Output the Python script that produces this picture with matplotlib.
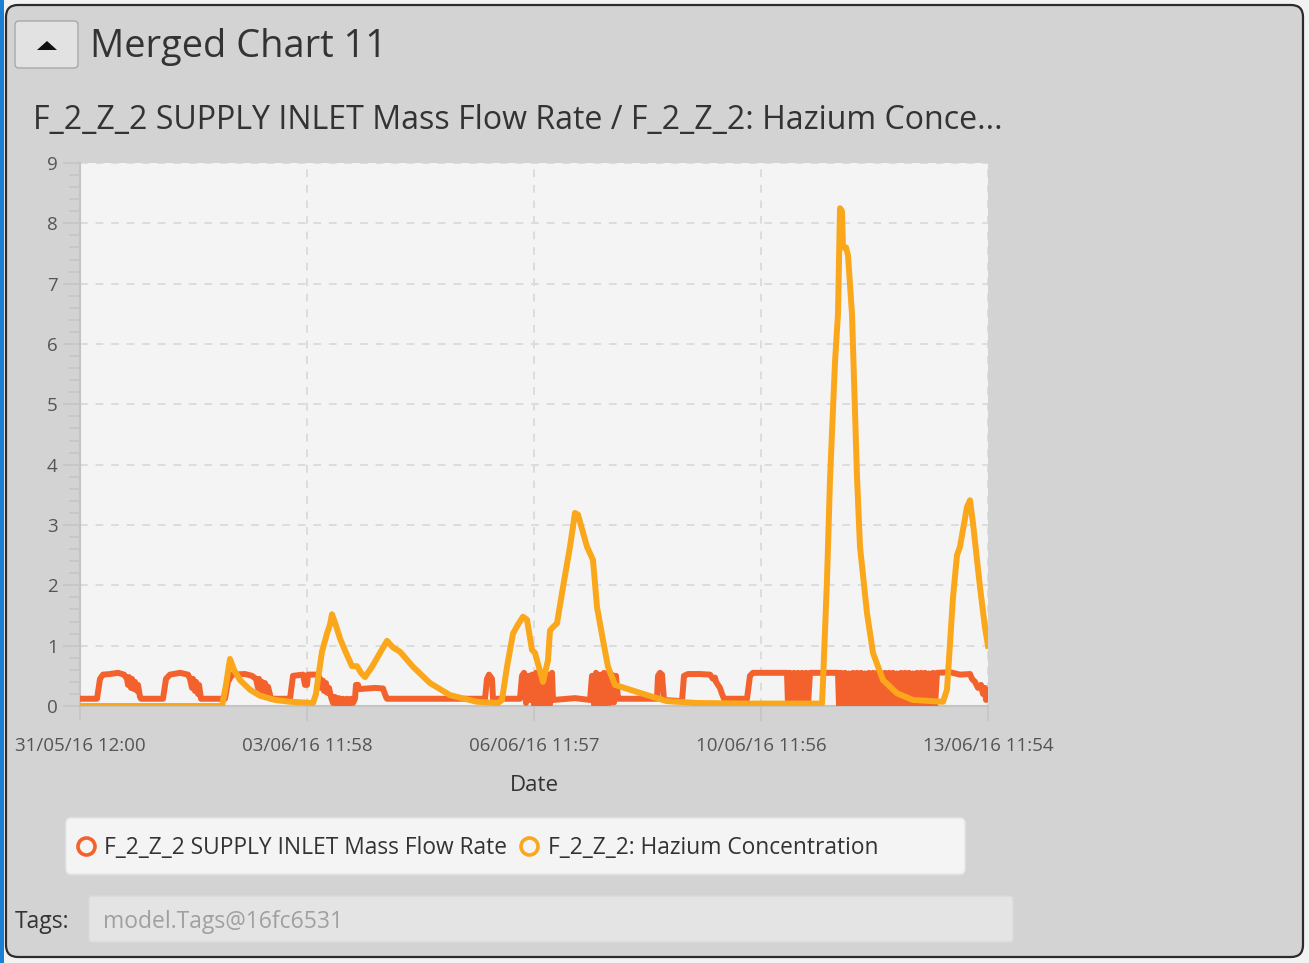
import matplotlib
matplotlib.use("Agg")
import matplotlib.pyplot as plt
from matplotlib.patches import FancyBboxPatch, Polygon, Rectangle
from matplotlib.ticker import MultipleLocator

plt.rcParams['font.family'] = ['Open Sans', 'DejaVu Sans']
plt.rcParams['path.simplify'] = False  # keep the dense zig-zags solid

# x is the sample index along the time axis, the ticks carry the date labels
tick_pos = [0, 227, 454, 681, 908]
tick_labels = ['31/05/16 12:00', '03/06/16 11:58', '06/06/16 11:57',
               '10/06/16 11:56', '13/06/16 11:54']

flow_name = 'F_2_Z_2 SUPPLY INLET Mass Flow Rate'
hazium_name = 'F_2_Z_2: Hazium Concentration'

flow = [
    (0, 0.12), (17, 0.12), (20, 0.45), (23, 0.52), (30, 0.53), (38, 0.55), (44, 0.52),
    (47, 0.45), (48, 0.35), (49, 0.48), (51, 0.3), (52, 0.45), (54, 0.28), (55, 0.4),
    (57, 0.25), (58, 0.35), (60, 0.15), (61, 0.12), (83, 0.12), (86, 0.45), (90, 0.52),
    (100, 0.55), (108, 0.52), (110, 0.45), (112, 0.3), (113, 0.45), (115, 0.25), (116, 0.4),
    (118, 0.2), (119, 0.35), (121, 0.12), (145, 0.12), (148, 0.4), (152, 0.52), (165, 0.53),
    (172, 0.5), (176, 0.45), (178, 0.3), (179, 0.45), (181, 0.25), (182, 0.4), (184, 0.25),
    (185, 0.38), (187, 0.2), (188, 0.32), (191, 0.12), (210, 0.12), (213, 0.5), (223, 0.52),
    (225, 0.35), (227, 0.35), (228, 0.52), (238, 0.52), (240, 0.45), (241, 0.3), (243, 0.42),
    (244, 0.25), (246, 0.38), (247, 0.22), (249, 0.3), (251, 0.15), (253, 0.05), (255, 0.15),
    (257, 0.03), (259, 0.13), (261, 0.03), (263, 0.12), (265, 0.03), (267, 0.12), (269, 0.03),
    (271, 0.12), (273, 0.05), (275, 0.12), (276, 0.35), (278, 0.35), (279, 0.28), (295, 0.3),
    (303, 0.29), (306, 0.15), (307, 0.12), (405, 0.12), (407, 0.45), (409, 0.52), (412, 0.45),
    (413, 0.12), (440, 0.12), (442, 0.5), (444, 0.55), (446, 0.05), (448, 0.5), (450, 0.1),
    (452, 0.52), (454, 0.02), (456, 0.55), (458, 0.03), (460, 0.52), (462, 0.02), (464, 0.55),
    (466, 0.05), (468, 0.52), (470, 0.03), (472, 0.55), (473, 0.1), (495, 0.13), (500, 0.12),
    (510, 0.1), (512, 0.5), (514, 0.03), (516, 0.55), (518, 0.05), (520, 0.52), (522, 0.03),
    (524, 0.55), (526, 0.04), (528, 0.55), (530, 0.05), (532, 0.52), (534, 0.06), (536, 0.5),
    (538, 0.12), (540, 0.12), (577, 0.12), (578, 0.5), (580, 0.55), (582, 0.52), (584, 0.1),
    (602, 0.08), (604, 0.5), (608, 0.53), (620, 0.53), (630, 0.52), (633, 0.45), (635, 0.47),
    (636, 0.4), (638, 0.35), (640, 0.3), (642, 0.2), (644, 0.12), (667, 0.12), (670, 0.5),
    (673, 0.55), (707, 0.55), (708, 0.02), (710, 0.55), (712, 0.0), (714, 0.55), (716, 0.02),
    (718, 0.55), (720, 0.0), (722, 0.55), (724, 0.02), (726, 0.55), (728, 0.02), (730, 0.55),
    (758, 0.55), (759, 0.0), (761, 0.55), (763, 0.01), (765, 0.55), (767, 0.0), (769, 0.54),
    (771, 0.02), (773, 0.55), (775, 0.0), (777, 0.55), (779, 0.01), (781, 0.55), (783, 0.0),
    (785, 0.54), (787, 0.02), (789, 0.55), (791, 0.0), (793, 0.55), (795, 0.01), (797, 0.55),
    (799, 0.0), (801, 0.54), (803, 0.02), (805, 0.55), (807, 0.0), (809, 0.55), (811, 0.01),
    (813, 0.55), (815, 0.0), (817, 0.54), (819, 0.02), (821, 0.55), (823, 0.0), (825, 0.55),
    (827, 0.01), (829, 0.55), (831, 0.0), (833, 0.54), (835, 0.02), (837, 0.55), (839, 0.0),
    (841, 0.55), (843, 0.01), (845, 0.55), (847, 0.0), (849, 0.54), (851, 0.02), (853, 0.55),
    (855, 0.0), (857, 0.55), (870, 0.56), (880, 0.52), (890, 0.53), (892, 0.45), (895, 0.4),
    (898, 0.3), (901, 0.35), (903, 0.2), (905, 0.3), (906, 0.1), (908, 0.25),
]

hazium = [
    (0, 0.0), (142, 0.0), (146, 0.35), (150, 0.78), (154, 0.6), (160, 0.43), (170, 0.27),
    (180, 0.17), (195, 0.1), (210, 0.07), (233, 0.05), (236, 0.2), (238, 0.45), (242, 0.9),
    (247, 1.2), (250, 1.35), (252, 1.52), (255, 1.38), (260, 1.12), (265, 0.92), (272, 0.66),
    (277, 0.66), (281, 0.55), (285, 0.48), (292, 0.65), (300, 0.88), (307, 1.08), (313, 0.97),
    (320, 0.9), (333, 0.65), (350, 0.38), (370, 0.18), (397, 0.07), (418, 0.05), (422, 0.1),
    (427, 0.65), (433, 1.2), (438, 1.35), (443, 1.48), (447, 1.43), (452, 0.93), (455, 0.88),
    (463, 0.4), (468, 0.76), (470, 1.25), (472, 1.29), (477, 1.37), (483, 1.97), (490, 2.64),
    (495, 3.2), (498, 3.17), (507, 2.64), (513, 2.42), (517, 1.64), (523, 1.09), (528, 0.65),
    (535, 0.35), (550, 0.27), (573, 0.15), (587, 0.08), (617, 0.05), (667, 0.04), (742, 0.04),
    (743, 0.4), (747, 2.09), (750, 3.75), (755, 5.7), (758, 6.5), (760, 8.25), (762, 8.2),
    (763, 7.6), (766, 7.6), (768, 7.47), (772, 6.5), (777, 3.8), (780, 2.64), (787, 1.54),
    (793, 0.88), (803, 0.43), (817, 0.21), (833, 0.1), (863, 0.07), (867, 0.27), (873, 1.8),
    (877, 2.5), (880, 2.64), (887, 3.3), (890, 3.41), (893, 3.03), (900, 1.97), (905, 1.3),
    (908, 1.0),
]

flow_x, flow_y = zip(*flow)
haz_x, haz_y = zip(*hazium)

W, H = 1309, 963
fig = plt.figure(figsize=(W / 100, H / 100), dpi=100)
fig.patch.set_facecolor('#f2f2f2')

# background layer in pixel coordinates for the window chrome
bg = fig.add_axes([0, 0, 1, 1], zorder=0)
bg.set_xlim(0, W)
bg.set_ylim(H, 0)
bg.axis('off')

def rbox(x, y, w, h, r, fc, ec, lw=1.0, z=1):
    p = FancyBboxPatch((x, y), w, h, boxstyle=f'round,pad=0,rounding_size={r}',
                       fc=fc, ec=ec, lw=lw, zorder=z)
    bg.add_patch(p)

bg.add_patch(Rectangle((0, 0), 4, H, fc='#1c7fd6', ec='none', zorder=0))
rbox(6, 5, 1297, 952, 12, '#d3d3d3', '#2b2b2b', lw=1.6)

# collapse button
rbox(15, 21, 63, 47, 4, '#e2e2e2', '#a8a8a8', lw=1.0, z=2)
bg.add_patch(Polygon([(37, 50), (57, 50), (47, 41)], closed=True, fc='#111111', ec='none', zorder=3))
bg.text(90, 47, 'Merged Chart 11', fontsize=27.4, color='#333333', va='center', ha='left', zorder=3)

bg.text(33, 120, 'F_2_Z_2 SUPPLY INLET Mass Flow Rate / F_2_Z_2: Hazium Conce...',
        fontsize=23.1, color='#333333', va='center', ha='left', zorder=3)

# legend box
rbox(66, 820, 899, 56, 5, '#d9d9d9', 'none', lw=0, z=1)
rbox(66, 818, 899, 56, 5, '#f4f4f4', '#e6e6e6', lw=1.0, z=2)
bg.scatter([86], [846], s=150, facecolors='#f4f4f4', edgecolors='#f3622d', linewidths=2.6, zorder=4)
bg.text(104, 848, flow_name, fontsize=16.4, color='#333333', va='center', ha='left', zorder=4)
bg.scatter([529], [846], s=150, facecolors='#f4f4f4', edgecolors='#fba71b', linewidths=2.6, zorder=4)
bg.text(548, 848, hazium_name, fontsize=16.4, color='#333333', va='center', ha='left', zorder=4)

# tags row
bg.text(15, 922, 'Tags:', fontsize=16.5, color='#333333', va='center', ha='left', zorder=3)
rbox(89, 896, 924, 46, 3, '#e4e4e4', '#dadada', lw=1.0, z=2)
bg.text(103, 922, 'model.Tags@16fc6531', fontsize=16.5, color='#a0a0a0', va='center', ha='left', zorder=3)

# the chart itself
ax = fig.add_axes([80 / W, 1 - 706 / H, 908 / W, 543 / H], zorder=2)
ax.set_facecolor('#f4f4f4')
ax.plot(flow_x, flow_y, color='#f3622d', lw=4.3, solid_joinstyle='round', zorder=3)
ax.plot(haz_x, haz_y, color='#fba71b', lw=4.3, solid_joinstyle='round', zorder=4)

ax.set_xlim(0, 908)
ax.set_ylim(0, 9)
ax.set_xticks(tick_pos)
ax.set_xticklabels(tick_labels)
ax.yaxis.set_major_locator(MultipleLocator(1))
ax.yaxis.set_minor_locator(MultipleLocator(0.2))
ax.grid(True, which='major', color='#dcdcdc', ls=(0, (4, 4)), lw=1.4, zorder=1)

for s in ['top', 'right']:
    ax.spines[s].set_visible(False)
ax.spines['left'].set_color('#c4c4c4')
ax.spines['bottom'].set_color('#c4c4c4')
ax.spines['left'].set_linewidth(1.5)
ax.spines['bottom'].set_linewidth(1.5)

ax.tick_params(axis='y', which='major', length=12, width=1.1, color='#c4c4c4',
               labelsize=13.5, labelcolor='#555555', pad=4)
ax.tick_params(axis='y', which='minor', length=8, width=1.1, color='#c4c4c4')
ax.tick_params(axis='x', which='major', length=11, width=1.1, color='#c4c4c4',
               labelsize=13.5, labelcolor='#555555', pad=11)
ax.set_xlabel('Date', fontsize=16, color='#333333', labelpad=15)

fig.savefig('out.png', dpi=100, facecolor=fig.get_facecolor())
